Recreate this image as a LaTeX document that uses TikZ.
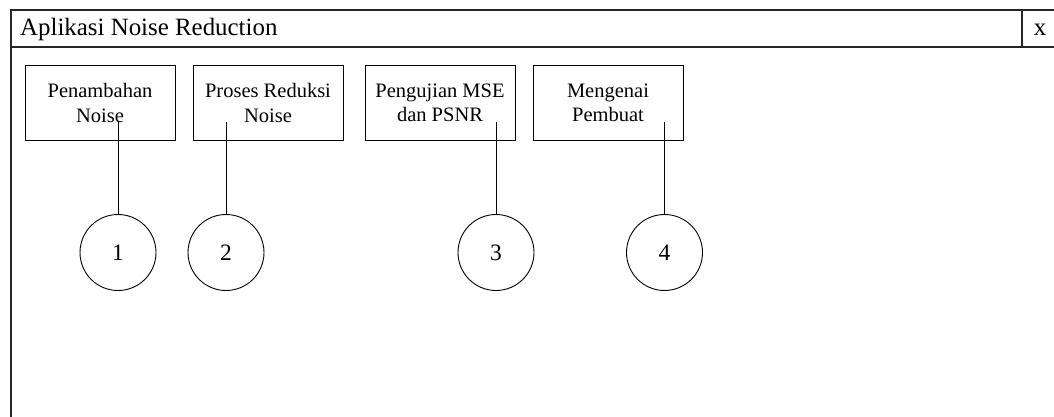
\documentclass[tikz,border=0pt]{standalone}
\usepackage{fontspec}
\setmainfont{Liberation Serif}
\begin{document}
\begin{tikzpicture}[x=1pt,y=-1pt,
  frameline/.style={line width=1.3pt,draw=black!85},
  menubox/.style={draw,line width=0.9pt,minimum width=150pt,minimum height=75pt,
    inner sep=0pt,align=center,font=\fontsize{20.5}{24.4}\selectfont},
  numcircle/.style={draw,circle,line width=0.9pt,minimum size=76pt,inner sep=0pt,
    font=\fontsize{23.5}{26}\selectfont},
  leader/.style={line width=0.9pt}]
\useasboundingbox (0,0) rectangle (1054,417);
\clip (0,0) rectangle (1054,417);
\fill[white] (0,0) rectangle (1054,417);
% window frame, title bar and close button
\draw[frameline] (11,10) rectangle (1080,440);
\draw[frameline] (11,47) -- (1080,47);
\draw[frameline] (1022,10) -- (1022,47);
\node[anchor=base west,inner sep=0pt,font=\fontsize{24.9}{28}\selectfont] (title) at (20,35.7) {Aplikasi Noise Reduction};
\node[anchor=base,inner sep=0pt,font=\fontsize{24.9}{28}\selectfont] (close) at (1040,35.7) {x};
% menu buttons
\node[menubox] (b1) at (100,103) {Penambahan\\Noise};
\node[menubox] (b2) at (268,103) {Proses Reduksi\\Noise};
\node[menubox] (b3) at (440,103) {Pengujian MSE\\dan PSNR};
\node[menubox] (b4) at (608,103) {Mengenai\\Pembuat};
% numbered callouts
\node[numcircle] (c1) at (118,252.5) {1};
\node[numcircle] (c2) at (226,252.5) {2};
\node[numcircle] (c3) at (496,252.5) {3};
\node[numcircle] (c4) at (664.5,252.5) {4};
\coordinate (p1) at (118,122);
\coordinate (p2) at (226,122);
\coordinate (p3) at (496,122);
\coordinate (p4) at (664.5,122);
\draw[leader] (p1) -- (c1.north);
\draw[leader] (p2) -- (c2.north);
\draw[leader] (p3) -- (c3.north);
\draw[leader] (p4) -- (c4.north);
\end{tikzpicture}
\end{document}
